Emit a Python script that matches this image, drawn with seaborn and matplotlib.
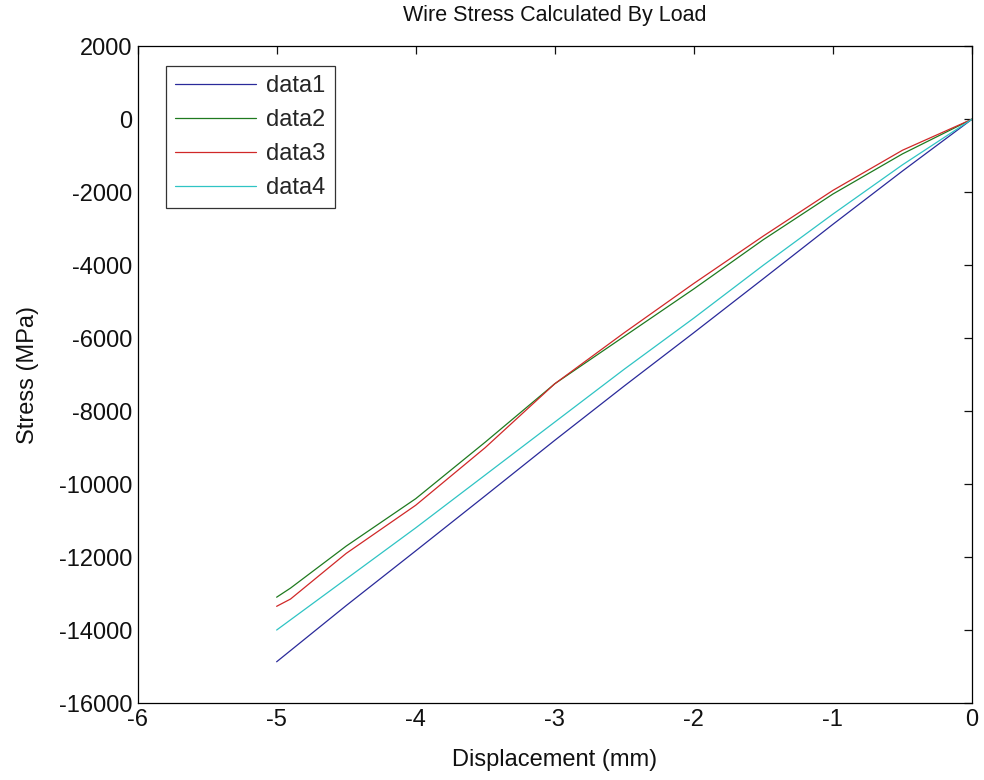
import matplotlib
matplotlib.use("Agg")
import matplotlib.pyplot as plt
import seaborn as sns
import pandas as pd

# Displacement (mm) and stress (MPa) for each load case
x_data1 = [-5.0, -4.5, -4.0, -3.5, -3.0, -2.5, -2.0, -1.5, -1.0, -0.5, 0.0]
y_data1 = [-14870, -13330, -11830, -10320, -8800, -7310, -5850, -4370, -2880, -1420, 0]

x_data2 = [-5.0, -4.9, -4.5, -4.0, -3.5, -3.0, -2.5, -2.0, -1.5, -1.0, -0.5, 0.0]
y_data2 = [-13100, -12850, -11700, -10400, -8850, -7250, -5950, -4650, -3300, -2050, -950, 0]

x_data3 = [-5.0, -4.9, -4.5, -4.0, -3.5, -3.0, -2.5, -2.0, -1.5, -1.0, -0.5, 0.0]
y_data3 = [-13350, -13150, -11900, -10580, -9000, -7250, -5850, -4500, -3200, -1950, -850, 0]

x_data4 = [-5.0, -4.5, -4.0, -3.5, -3.0, -2.5, -2.0, -1.5, -1.0, -0.5, 0.0]
y_data4 = [-14000, -12600, -11200, -9750, -8300, -6850, -5450, -4000, -2600, -1250, 0]

series_names = ["data1", "data2", "data3", "data4"]
x_ticks = [-6, -5, -4, -3, -2, -1, 0]
y_ticks = [-16000, -14000, -12000, -10000, -8000, -6000, -4000, -2000, 0, 2000]

frames = []
for name, xs, ys in zip(series_names,
                        [x_data1, x_data2, x_data3, x_data4],
                        [y_data1, y_data2, y_data3, y_data4]):
    frames.append(pd.DataFrame({"Displacement": xs, "Stress": ys, "series": name}))
df = pd.concat(frames, ignore_index=True)

sns.set_style("white")
plt.rcParams["font.family"] = ["Liberation Sans", "DejaVu Sans"]
plt.rcParams["axes.unicode_minus"] = False

palette = {"data1": "#2a2a9a", "data2": "#1f7a1f", "data3": "#d02828", "data4": "#2fc4c4"}

fig = plt.figure(figsize=(9.84, 7.8), dpi=100)
ax = fig.add_axes([0.1398, 0.0987, 0.848, 0.842])

sns.lineplot(data=df, x="Displacement", y="Stress", hue="series",
             hue_order=series_names, palette=palette, estimator=None,
             sort=True, linewidth=0.9, ax=ax)

ax.set_xlim(-6, 0)
ax.set_ylim(-16000, 2000)
ax.set_xticks(x_ticks)
ax.set_yticks(y_ticks)
ax.set_xticklabels([str(t) for t in x_ticks])
ax.set_yticklabels([str(t) for t in y_ticks])
ax.tick_params(direction="in", length=6, width=0.9, top=True, right=True,
               labelsize=17, colors="#111111", pad=4)
for sp in ax.spines.values():
    sp.set_visible(True)
    sp.set_color("black")
    sp.set_linewidth(0.9)

ax.set_title("Wire Stress Calculated By Load", fontsize=15.5, pad=18, color="#111111")
ax.set_xlabel("Displacement (mm)", fontsize=17, labelpad=13, color="#111111")
ax.set_ylabel("Stress (MPa)", fontsize=17, labelpad=14, color="#111111")

leg = ax.legend(loc="upper left", bbox_to_anchor=(0.034, 0.97), borderaxespad=0,
                fontsize=17, frameon=True, fancybox=False, handlelength=3.4,
                handletextpad=0.45, labelspacing=0.5, borderpad=0.4, title=None)
leg.get_frame().set_edgecolor("black")
leg.get_frame().set_linewidth(0.9)

fig.savefig("out.png", dpi=100)
